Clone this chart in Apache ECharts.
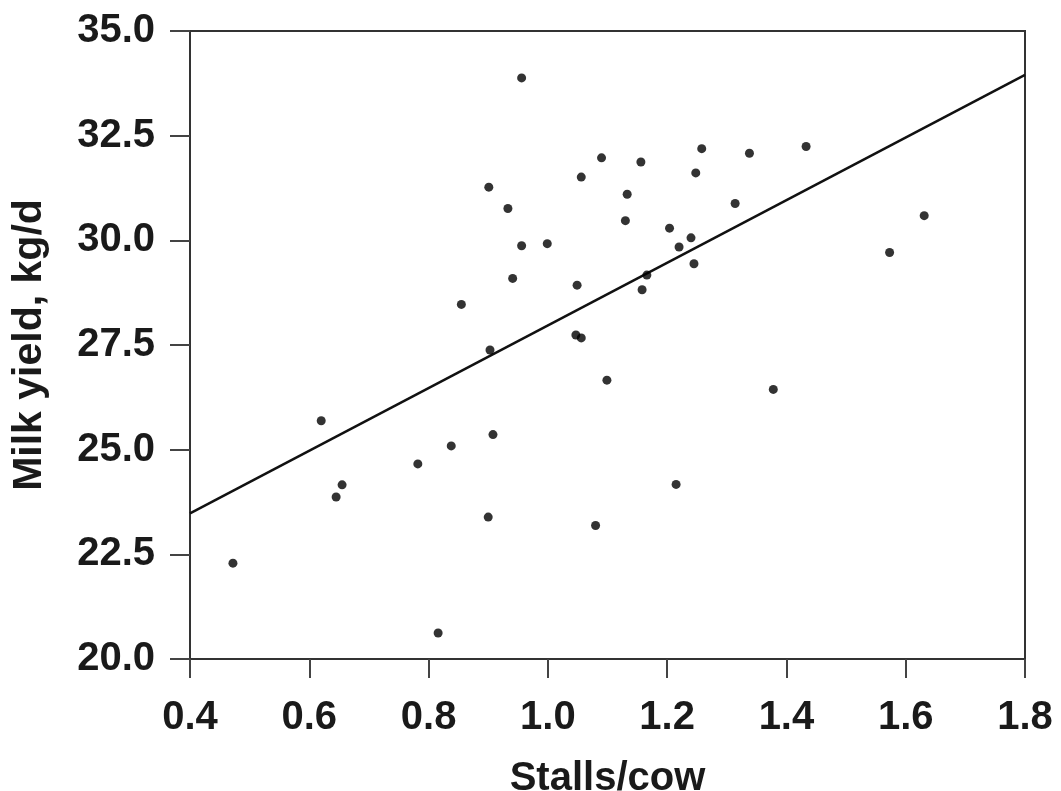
<!DOCTYPE html>
<html>
<head>
<meta charset="utf-8">
<script src="https://cdn.jsdelivr.net/npm/echarts@6/dist/echarts.min.js"></script>
<style>
  html, body { margin: 0; padding: 0; background: #fff; }
  #main { width: 1061px; height: 791px; }
</style>
</head>
<body>
<div id="main"></div>
<script>
// stalls per cow (x) and milk yield kg/d (y)
var stalls = [0.472, 0.620, 0.655, 0.645, 0.782, 0.838, 0.816, 0.855, 0.901, 0.933,
              0.956, 0.956, 0.999, 0.941, 0.903, 1.049, 1.047, 1.056, 1.099, 1.056,
              1.090, 1.156, 1.133, 1.130, 1.204, 1.240, 1.220, 1.245, 1.166, 1.158,
              1.248, 1.258, 1.338, 1.433, 1.314, 1.631, 1.573, 1.378, 0.908, 0.900,
              1.080, 1.215];
var milkYield = [22.29, 25.69, 24.16, 23.87, 24.66, 25.09, 20.62, 28.47, 31.27, 30.76,
                 33.88, 29.87, 29.92, 29.09, 27.38, 28.93, 27.74, 27.67, 26.66, 31.51,
                 31.97, 31.87, 31.10, 30.47, 30.29, 30.06, 29.84, 29.44, 29.17, 28.82,
                 31.61, 32.19, 32.08, 32.24, 30.88, 30.59, 29.71, 26.44, 25.36, 23.39,
                 23.19, 24.17];
// fitted regression line end points
var fitX = [0.4, 1.8];
var fitY = [23.48, 33.95];

var xTicks = [0.4, 0.6, 0.8, 1.0, 1.2, 1.4, 1.6, 1.8];
var yTicks = [20.0, 22.5, 25.0, 27.5, 30.0, 32.5, 35.0];

var pts = stalls.map(function (x, i) { return [x, milkYield[i]]; });
var fit = fitX.map(function (x, i) { return [x, fitY[i]]; });

var font = '"Liberation Sans", Arial, sans-serif';
var txt = '#1a1a1a';

var chart = echarts.init(document.getElementById('main'));
var option = {
  backgroundColor: '#fff',
  animation: false,
  grid: {
    left: 190, right: 36, top: 31, bottom: 132,
    outerBoundsMode: 'none',
    show: true, borderColor: '#333', borderWidth: 2, backgroundColor: 'transparent'
  },
  xAxis: {
    type: 'value',
    min: xTicks[0], max: xTicks[xTicks.length - 1], interval: 0.2,
    name: 'Stalls/cow',
    nameLocation: 'middle',
    nameGap: 100,
    nameTextStyle: { fontFamily: font, fontSize: 40, fontWeight: 'bold', color: txt },
    axisLine: { show: true, lineStyle: { color: '#333', width: 2 } },
    axisTick: { show: true, length: 19, lineStyle: { color: '#444', width: 2 } },
    axisLabel: {
      margin: 39, fontFamily: font, fontSize: 40, fontWeight: 'bold', color: txt,
      formatter: function (v) { return v.toFixed(1); }
    },
    splitLine: { show: false }
  },
  yAxis: {
    type: 'value',
    min: yTicks[0], max: yTicks[yTicks.length - 1], interval: 2.5,
    name: 'Milk yield, kg/d',
    nameLocation: 'middle',
    nameGap: 140,
    nameTextStyle: { fontFamily: font, fontSize: 41, fontWeight: 'bold', color: txt },
    axisLine: { show: true, lineStyle: { color: '#333', width: 2 } },
    axisTick: { show: true, length: 20, lineStyle: { color: '#444', width: 2 } },
    axisLabel: {
      margin: 35, fontFamily: font, fontSize: 40, fontWeight: 'bold', color: txt,
      formatter: function (v) { return v.toFixed(1); }
    },
    splitLine: { show: false }
  },
  series: [
    {
      type: 'line',
      data: fit,
      symbol: 'none',
      lineStyle: { color: '#111', width: 2.5 },
      z: 2
    },
    {
      type: 'scatter',
      data: pts,
      symbol: 'circle',
      symbolSize: 9,
      itemStyle: { color: '#000' },
      z: 3
    }
  ]
};
chart.setOption(option);
</script>
</body>
</html>
